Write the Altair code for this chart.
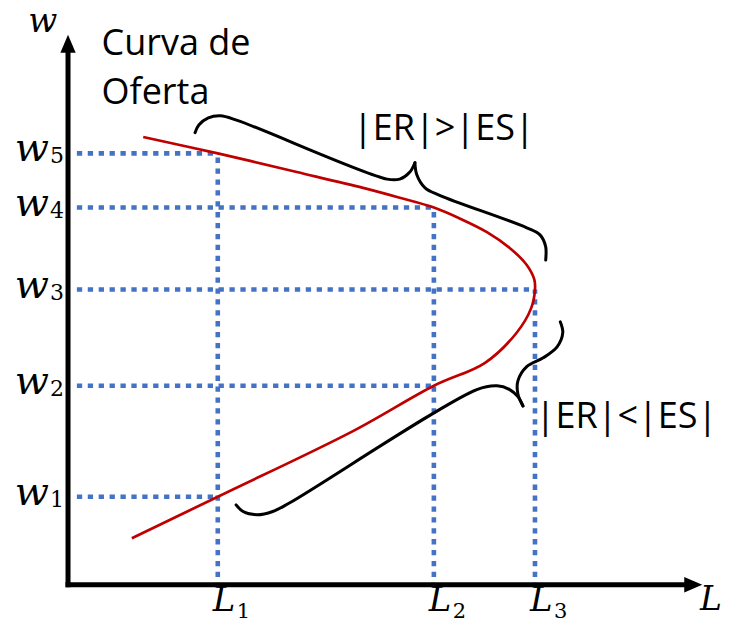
import altair as alt
import pandas as pd

# ---------------- values (L on x, w on y, 0-100 units) ----------------
L_names = ["1", "2", "3"]
L_values = [23.7, 57.9, 73.9]
w_names = ["1", "2", "3", "4", "5"]
w_values = [16.1, 36.4, 54.0, 69.0, 78.9]
# L at which each w level meets the supply curve
w_meets_L = [23.7, 57.9, 73.9, 57.9, 23.7]
# w at which each L level meets the supply curve
L_meets_w = [78.9, 69.0, 54.0]

# backward-bending labour supply curve (traced in order, top to bottom)
curve_L = [11.9, 23.7, 36.2, 46.7, 52.5, 57.9, 62.0, 66.3, 69.9, 72.6, 73.8, 73.9,
           73.3, 71.0, 66.0, 57.9, 45.1, 23.7, 10.1]
curve_w = [81.9, 78.9, 75.5, 72.6, 70.8, 69.0, 67.0, 64.5, 61.6, 58.5, 55.8, 54.0,
           50.6, 46.1, 40.6, 36.4, 28.1, 16.1, 8.5]

# braces (two halves each, meeting at the cusp)
brace_up_left_L = [20.1, 20.7, 22.2, 24.1, 26.9, 50.5, 52.5, 54.1, 54.9]
brace_up_left_w = [82.7, 84.1, 85.4, 85.8, 84.9, 74.2, 74.2, 75.5, 77.2]
brace_up_right_L = [54.9, 55.2, 56.5, 58.9, 72.6, 74.7, 75.6, 75.6]
brace_up_right_w = [77.2, 75.0, 72.6, 71.2, 65.3, 64.0, 61.8, 59.4]
brace_lo_left_L = [26.6, 27.7, 29.9, 32.4, 35.1, 64.7, 67.9, 69.9, 71.2, 72.0]
brace_lo_left_w = [14.6, 13.4, 12.8, 13.4, 15.0, 35.7, 36.4, 35.7, 34.4, 32.7]
brace_lo_right_L = [72.0, 71.2, 71.2, 72.6, 75.2, 77.4, 78.3, 77.9]
brace_lo_right_w = [32.7, 34.9, 37.3, 39.9, 41.5, 43.5, 46.1, 48.1]

axis_len = 97.5
axis_tip = 98.95
line_start = 1.4

texts = ["Curva de", "Oferta", "|ER|>|ES|", "|ER|<|ES|"]
text_L = [5.3, 5.3, 45.1, 74.0]
text_w = [96.9, 88.0, 81.4, 28.7]

# ---------------- scales ----------------
xs = alt.Scale(domain=[-9.5, 103.5], nice=False, zero=False)
ys = alt.Scale(domain=[-7.0, 105.5], nice=False, zero=False)


def X(f):
    return alt.X(f, type="quantitative", scale=xs, axis=None)


def Y(f):
    return alt.Y(f, type="quantitative", scale=ys, axis=None)


BLUE = "#4472C4"
RED = "#C00000"

# dotted guide lines
h_df = pd.DataFrame({"x": [line_start] * len(w_values), "x2": w_meets_L, "y": w_values})
v_df = pd.DataFrame({"x": L_values, "y": [-0.6] * len(L_values), "y2": L_meets_w})
h_lines = alt.Chart(h_df).mark_rule(color=BLUE, strokeWidth=4.6, strokeDash=[5.3, 5.6]).encode(
    x=X("x"), x2="x2", y=Y("y"))
v_lines = alt.Chart(v_df).mark_rule(color=BLUE, strokeWidth=4.6, strokeDash=[5.3, 5.6]).encode(
    x=X("x"), y=Y("y"), y2="y2")

# axes
ax_df = pd.DataFrame({"x": [0, 0], "y": [0, 0], "x2": [axis_len, 0], "y2": [0, axis_len]})
axes = alt.Chart(ax_df).mark_rule(color="black", strokeWidth=5, strokeCap="square").encode(
    x=X("x"), y=Y("y"), x2="x2", y2="y2")
up_arrow = alt.Chart(pd.DataFrame({"x": [0], "y": [axis_tip]})).mark_point(
    shape="M0,-1L0.85,1L-0.85,1Z", size=324, filled=True, color="black", opacity=1, strokeWidth=0
).encode(x=X("x"), y=Y("y"))
right_arrow = alt.Chart(pd.DataFrame({"x": [axis_tip], "y": [0]})).mark_point(
    shape="M1,0L-1,0.85L-1,-0.85Z", size=324, filled=True, color="black", opacity=1, strokeWidth=0
).encode(x=X("x"), y=Y("y"))

# supply curve
c_df = pd.DataFrame({"L": curve_L, "w": curve_w, "i": range(len(curve_L))})
curve = alt.Chart(c_df).mark_line(color=RED, strokeWidth=2.7, interpolate="catmull-rom").encode(
    x=X("L"), y=Y("w"), order="i")

# braces
rows = []
for seg, (Ls, ws) in enumerate([(brace_up_left_L, brace_up_left_w), (brace_up_right_L, brace_up_right_w),
                                (brace_lo_left_L, brace_lo_left_w), (brace_lo_right_L, brace_lo_right_w)]):
    for i, (a, b) in enumerate(zip(Ls, ws)):
        rows.append({"seg": seg, "i": i, "L": a, "w": b})
b_df = pd.DataFrame(rows)
braces = alt.Chart(b_df).mark_line(color="black", strokeWidth=3, interpolate="catmull-rom",
                                   strokeCap="round").encode(
    x=X("L"), y=Y("w"), detail="seg:N", order="i")

# tick labels
w_df = pd.DataFrame({"x": [0] * len(w_values), "y": w_values, "n": w_names, "s": ["w"] * len(w_values)})
w_main = alt.Chart(w_df).mark_text(align="right", baseline="alphabetic", dx=-19, dy=8,
                                   font="DejaVu Serif", fontStyle="italic", fontSize=40,
                                   color="black").encode(x=X("x"), y=Y("y"), text="s")
w_sub = alt.Chart(w_df).mark_text(align="right", baseline="alphabetic", dx=-4, dy=10,
                                  font="DejaVu Serif", fontSize=22, color="black").encode(
    x=X("x"), y=Y("y"), text="n")
l_df = pd.DataFrame({"x": L_values, "y": [0] * len(L_values), "n": L_names, "s": ["L"] * len(L_values)})
l_main = alt.Chart(l_df).mark_text(align="left", baseline="alphabetic", dx=-5, dy=26,
                                   font="DejaVu Serif", fontStyle="italic", fontSize=34,
                                   color="black").encode(x=X("x"), y=Y("y"), text="s")
l_sub = alt.Chart(l_df).mark_text(align="left", baseline="alphabetic", dx=19, dy=33,
                                  font="DejaVu Serif", fontSize=21, color="black").encode(
    x=X("x"), y=Y("y"), text="n")

# axis titles
wt = alt.Chart(pd.DataFrame({"x": [-6.3], "y": [101.1], "t": ["w"]})).mark_text(
    align="left", baseline="alphabetic", font="DejaVu Serif", fontStyle="italic", fontSize=34,
    color="black").encode(x=X("x"), y=Y("y"), text="t")
lt = alt.Chart(pd.DataFrame({"x": [103.5], "y": [-4.6], "t": ["L"]})).mark_text(
    align="right", baseline="alphabetic", font="DejaVu Serif", fontStyle="italic", fontSize=33,
    color="black").encode(x=X("x"), y=Y("y"), text="t")

# annotations
t_df = pd.DataFrame({"x": text_L, "y": text_w, "t": texts})
notes = alt.Chart(t_df).mark_text(align="left", baseline="alphabetic", font="Open Sans",
                                  fontSize=36, color="black").encode(x=X("x"), y=Y("y"), text="t")

chart = alt.layer(h_lines, v_lines, axes, up_arrow, right_arrow, curve, braces,
                  w_main, w_sub, l_main, l_sub, wt, lt, notes).properties(
    width=714, height=615, padding=0, autosize=alt.AutoSizeParams(type="none"),
    background="white").configure_view(stroke=None)

chart.save("out.html", embed_options={"renderer": "svg", "actions": False})
